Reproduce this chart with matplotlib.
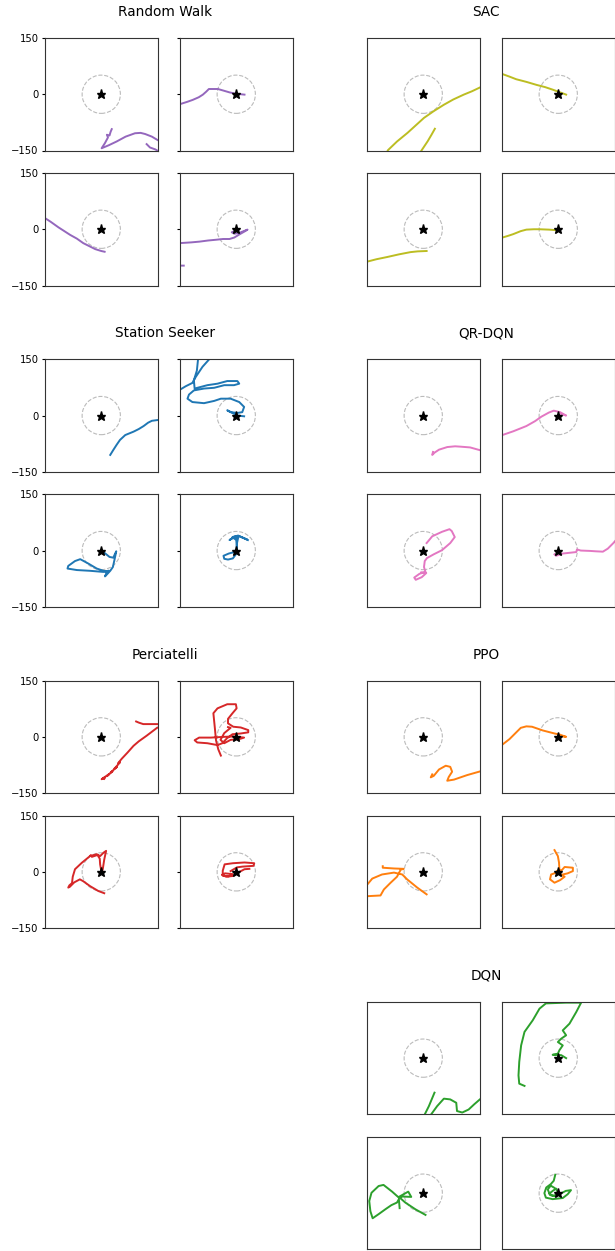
import matplotlib
matplotlib.use("Agg")
import matplotlib.pyplot as plt
from matplotlib.patches import Circle

# episode tracks (x, y) per agent, four episodes each, in metres from the station
RANDOM_WALK = [
    [(121, -133), (130, -142), (144, -147), (160, -156), (178, -150), (172, -132),
     (150, -122), (135, -113), (117, -106), (105, -103), (90, -104), (65, -113),
     (41, -126), (20, -136), (1, -144), (10, -130), (18, -115), (15, -108),
     (22, -110), (25, -100), (28, -93)],
    [(-152, -27), (-130, -20), (-116, -15), (-100, -8), (-89, -1), (-80, 7),
     (-73, 14), (-60, 14), (-49, 14), (-35, 10), (-18, 5), (0, 1), (12, 0), (22, -1)],
    [(-152, 31), (-135, 20), (-114, 5), (-100, -4), (-83, -15), (-65, -25),
     (-48, -37), (-30, -46), (-16, -53), (0, -58), (9, -60)],
    [(-140, -97), (-160, -97), (-165, -60), (-160, -38), (-151, -37), (-120, -35),
     (-98, -33), (-75, -30), (-54, -28), (-35, -26), (-18, -26), (-5, -22),
     (8, -14), (22, -6), (30, -1), (25, -3), (10, -9), (-5, -12), (-12, -8), (-5, -5)],
]

SAC = [
    [(31, -92), (22, -108), (12, -125), (2, -140), (-6, -152), (-20, -175),
     (-60, -185), (-105, -170), (-94, -149), (-70, -126), (-42, -103), (-20, -83),
     (2, -63), (28, -45), (55, -28), (80, -14), (108, -1), (130, 8), (151, 18)],
    [(-152, 55), (-130, 47), (-112, 40), (-85, 33), (-58, 25), (-35, 19),
     (-14, 12), (5, 5), (21, -1)],
    [(-152, -87), (-125, -80), (-96, -74), (-65, -67), (-34, -61), (-15, -59), (9, -58)],
    [(-152, -23), (-135, -18), (-120, -13), (-100, -5), (-85, -1), (-65, 0),
     (-50, 0), (-25, -1), (2, -3)],
]

STATION_SEEKER = [
    [(24, -105), (32, -92), (41, -78), (50, -65), (64, -52), (86, -43), (100, -36),
     (113, -28), (125, -19), (135, -14), (150, -12)],
    [(-150, 69), (-135, 78), (-117, 87), (-108, 103), (-90, 130), (-73, 149),
     (-70, 170), (-100, 170), (-102, 149), (-105, 120), (-113, 94), (-111, 72),
     (-77, 81), (-50, 85), (-24, 92), (3, 92), (8, 85), (-6, 81), (-32, 81),
     (-59, 74), (-86, 72), (-113, 67), (-126, 56), (-130, 45), (-117, 36),
     (-86, 33), (-59, 39), (-41, 45), (-15, 45), (8, 36), (21, 23), (16, 9),
     (3, 7), (-15, 9), (-24, 14), (-10, 7), (3, 0), (21, -2)],
    [(6, -4), (22, -17), (32, -19), (40, -2), (35, -26), (31, -44), (24, -54),
     (10, -69), (15, -57), (-12, -48), (-34, -35), (-56, -23), (-70, -28),
     (-88, -41), (-90, -48), (-65, -52), (-30, -54), (6, -57), (19, -54)],
    [(31, 28), (20, 33), (8, 38), (-5, 37), (-18, 28), (-10, 33), (5, 34), (2, 20),
     (1, 5), (-5, -4), (-20, -8), (-34, -14), (-32, -22), (-22, -24), (-9, -21),
     (-1, -10), (2, 5), (0, 28), (-10, 36), (5, 40), (28, 30)],
]

QR_DQN = [
    [(26, -97), (24, -105), (30, -99), (42, -91), (64, -84), (85, -82), (100, -83),
     (125, -85), (150, -92)],
    [(-152, -53), (-120, -42), (-85, -28), (-62, -15), (-45, -3), (-25, 8),
     (-12, 13), (5, 9), (21, 0), (8, 4)],
    [(9, 20), (24, 38), (50, 50), (70, 57), (76, 52), (84, 36), (72, 20), (50, 1),
     (28, -10), (10, -20), (4, -28), (2, -44), (6, -57), (-10, -62), (-24, -72),
     (-20, -78), (-4, -71), (8, -60), (-5, -58)],
    [(-10, -10), (-6, -14), (12, -8), (30, -6), (48, -4), (50, 3), (60, 0),
     (85, -1), (100, -2), (119, -3), (132, 5), (147, 20), (160, 35)],
]

PERCIATELLI = [
    [(93, 41), (100, 38), (112, 34), (125, 34), (150, 34), (170, 30), (160, 22),
     (150, 25), (121, 3), (100, -12), (86, -24), (70, -42), (55, -58), (45, -70),
     (50, -68), (35, -85), (42, -80), (25, -95), (30, -92), (15, -105), (20, -100),
     (5, -110), (1, -113), (10, -108), (8, -112)],
    [(-41, -50), (-48, -33), (-54, -9), (-57, 23), (-61, 63), (-50, 76), (-24, 87),
     (-1, 87), (1, 76), (-10, 63), (-22, 48), (-22, 36), (-8, 27), (12, 25),
     (32, 18), (32, 12), (12, 9), (-10, 7), (-25, -4), (-37, -17), (-50, -22),
     (-77, -17), (-104, -15), (-111, -9), (-99, -2), (-68, -2), (-33, 0), (-6, 1),
     (21, -2), (8, -6), (-15, -8), (-32, -17), (-42, -8), (-32, 10), (-15, 24),
     (-22, 26)],
    [(8, -57), (-8, -51), (-30, -38), (-48, -25), (-57, -20), (-72, -28),
     (-84, -40), (-88, -42), (-85, -36), (-78, -30), (-76, -13), (-70, 7),
     (-52, 24), (-30, 42), (-12, 47), (-3, 42), (6, 51), (13, 56), (8, 33),
     (4, 7), (1, -2), (-3, 20), (-4, 35), (-10, 45), (-25, 40), (-28, 44)],
    [(35, 8), (22, 7), (5, -2), (-9, -11), (-27, -13), (-38, -8), (-30, -4),
     (-10, -6), (-20, -12), (-36, -10), (-36, 3), (-31, 20), (-9, 23), (22, 25),
     (48, 23), (46, 16), (17, 14), (2, 12), (-15, 2)],
]

PPO = [
    [(24, -100), (20, -108), (28, -104), (42, -87), (60, -77), (72, -80), (77, -93),
     (68, -107), (64, -117), (82, -114), (117, -102), (152, -92)],
    [(-152, -23), (-130, -6), (-112, 12), (-100, 24), (-85, 28), (-70, 27),
     (-41, 17), (-10, 9), (4, 6), (21, 0), (5, 2)],
    [(9, -60), (-16, -42), (-43, -20), (-56, -7), (-78, -2), (-110, -7),
     (-136, -18), (-151, -36), (-165, -45), (-165, -64), (-151, -65), (-114, -63),
     (-105, -47), (-87, -29), (-70, -13), (-60, 6), (-52, 8), (-78, 9),
     (-108, 11), (-108, 15)],
    [(-10, 58), (-1, 42), (2, 25), (3, 7), (-5, -2), (-19, -7), (-22, -20),
     (-10, -29), (5, -22), (17, -13), (8, -8), (25, -4), (39, 2), (39, 11),
     (17, 13), (10, 5), (-3, 2)],
]

DQN = [
    [(30, -92), (15, -128), (3, -152), (12, -165), (21, -150), (37, -128),
     (55, -108), (72, -110), (88, -119), (90, -141), (104, -145), (121, -137),
     (136, -123), (151, -110)],
    [(-90, -74), (-104, -68), (-106, -46), (-104, -10), (-99, 34), (-90, 70),
     (-68, 101), (-50, 132), (-33, 146), (21, 148), (61, 148), (48, 123),
     (30, 92), (12, 74), (21, 61), (8, 52), (-1, 43), (12, 34), (3, 21),
     (-1, 12), (-15, 9), (8, 8), (21, 0)],
    [(6, -58), (-21, -43), (-48, -25), (-65, -10), (-49, -1), (-40, 4), (-32, -10),
     (-55, -9), (-65, -12), (-83, 4), (-106, 22), (-119, 19), (-138, 1),
     (-144, -21), (-141, -48), (-135, -67), (-119, -56), (-101, -43), (-85, -32),
     (-70, -25), (-65, -16), (-63, -40)],
    [(-8, 49), (-12, 33), (-20, 24), (-32, 15), (-37, 0), (-33, -12), (-15, -16),
     (12, -13), (25, -3), (34, 8), (20, 6), (3, -3), (-15, -7), (-24, -1),
     (-12, 8), (-5, 12), (-2, 2), (5, -2), (-10, -8), (-22, -5), (-28, 10),
     (-20, 20), (-10, 14)],
]

# agent name, tracks, line colour, grid slot (column, row)
PANELS = [
    ("Random Walk", RANDOM_WALK, "tab:purple", 0, 0),
    ("SAC", SAC, "tab:olive", 1, 0),
    ("Station Seeker", STATION_SEEKER, "tab:blue", 0, 1),
    ("QR-DQN", QR_DQN, "tab:pink", 1, 1),
    ("Perciatelli", PERCIATELLI, "tab:red", 0, 2),
    ("PPO", PPO, "tab:orange", 1, 2),
    ("DQN", DQN, "tab:green", 1, 3),
]

W, H = 615, 1251
SIZE = 112.5          # panel edge, px
STEP = 135            # panel pitch inside a group, px
GROUP_X = [45, 367]   # left edge of each group column, px
GROUP_Y = 38          # top of first group, px
GROUP_DY = 321.3      # vertical pitch between groups, px
TITLE_X = [165, 486]
LIMIT = 150
RADIUS = 51

fig = plt.figure(figsize=(W / 100, H / 100), dpi=100)

for name, tracks, color, col, row in PANELS:
    gx, gy = GROUP_X[col], GROUP_Y + GROUP_DY * row
    fig.text(TITLE_X[col] / W, 1 - (gy - 26) / H, name, ha="center", va="center",
             fontsize=9.8)
    for i, track in enumerate(tracks):
        r, c = divmod(i, 2)
        left, top = gx + STEP * c, gy + STEP * r
        ax = fig.add_axes([left / W, 1 - (top + SIZE) / H, SIZE / W, SIZE / H])
        xs, ys = zip(*track)
        ax.plot(xs, ys, color=color, lw=1.4)
        ax.add_patch(Circle((0, 0), RADIUS, fill=False, ls="--", lw=0.8,
                            edgecolor="#bbbbbb"))
        ax.plot(0, 0, marker="*", color="black", ms=6.5, ls="none")
        ax.set_xlim(-LIMIT, LIMIT)
        ax.set_ylim(-LIMIT, LIMIT)
        ax.set_xticks([])
        if col == 0:
            ax.set_yticks([-LIMIT, 0, LIMIT])
            ax.tick_params(axis="y", labelsize=7.2, length=2.5, pad=2,
                           labelleft=(c == 0))
        else:
            ax.set_yticks([])
        for s in ax.spines.values():
            s.set_linewidth(0.8)
            s.set_color("#333333")

fig.savefig("out.png", dpi=100)
